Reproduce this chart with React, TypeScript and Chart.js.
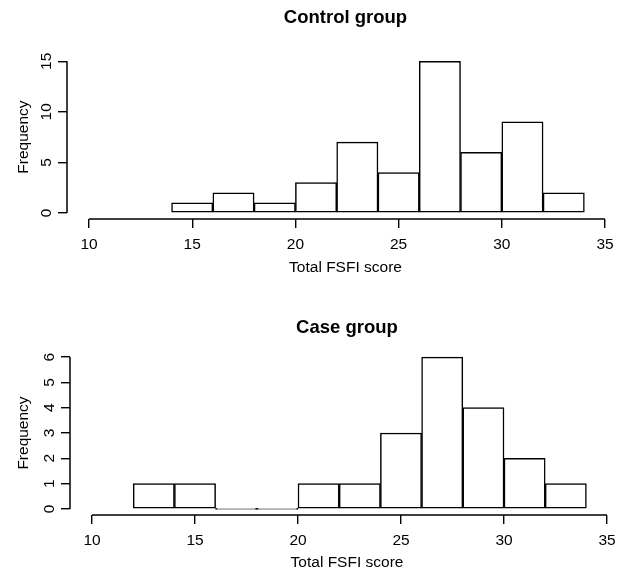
import React, { useEffect, useRef } from 'react';
import { Chart, registerables } from 'chart.js';

Chart.register(...registerables);

// ---- data ----
const binWidth = 2;
const controlBinStarts = [14, 16, 18, 20, 22, 24, 26, 28, 30, 32];
const controlCounts = [1, 2, 1, 3, 7, 4, 15, 6, 9, 2];
const caseBinStarts = [12, 14, 16, 18, 20, 22, 24, 26, 28, 30, 32];
const caseCounts = [1, 1, 0, 0, 1, 1, 3, 6, 4, 2, 1];
const xTicks = [10, 15, 20, 25, 30, 35];
const controlYTicks = [0, 5, 10, 15];
const caseYTicks = [0, 1, 2, 3, 4, 5, 6];
const controlTitle = 'Control group';
const caseTitle = 'Case group';
const xAxisLabel = 'Total FSFI score';
const yAxisLabel = 'Frequency';

const FONT = "'Liberation Sans', Arial, Helvetica, sans-serif";

const rAxisLines = {
  id: 'rAxisLines',
  afterDraw(chart: any) {
    const { ctx, chartArea } = chart;
    const x = chart.scales.x;
    const y = chart.scales.y;
    const xt = x.ticks.map((t: any) => t.value);
    const yt = y.ticks.map((t: any) => t.value);
    ctx.save();
    ctx.strokeStyle = '#000';
    ctx.lineWidth = 1.5;
    ctx.beginPath();
    ctx.moveTo(x.getPixelForValue(xt[0]), chartArea.bottom);
    ctx.lineTo(x.getPixelForValue(xt[xt.length - 1]), chartArea.bottom);
    ctx.moveTo(chartArea.left, y.getPixelForValue(yt[0]));
    ctx.lineTo(chartArea.left, y.getPixelForValue(yt[yt.length - 1]));
    ctx.stroke();
    ctx.restore();
  },
};

interface Params {
  title: string;
  starts: number[];
  counts: number[];
  yTicks: number[];
  xMin: number;
  xMax: number;
  yMin: number;
  yMax: number;
  yWidth: number;
  xHeight: number;
  titlePad: { top: number; bottom: number };
  xTickPad: number;
  xTitlePadBottom: number;
  yTickPad: number;
}

function makeConfig(p: Params): any {
  const data = p.starts.map((s, i) => ({ x: s + binWidth / 2, y: p.counts[i] }));
  const gridOpts = {
    display: true,
    drawOnChartArea: false,
    drawTicks: true,
    tickLength: 9,
    color: '#000',
    lineWidth: 1.4,
    offset: false,
  };
  return {
    type: 'bar',
    data: {
      datasets: [
        {
          data,
          backgroundColor: '#ffffff',
          borderColor: '#000000',
          borderWidth: 1.5,
          borderSkipped: false,
          minBarLength: 1,
          barPercentage: 1,
          categoryPercentage: 1,
          grouped: false,
        },
      ],
    },
    options: {
      responsive: false,
      animation: false,
      events: [],
      layout: { padding: 0 },
      plugins: {
        legend: { display: false },
        tooltip: { enabled: false },
        title: {
          display: true,
          text: p.title,
          fullSize: false,
          color: '#000',
          font: { family: FONT, size: 18.5, weight: 'bold', lineHeight: 1.2 },
          padding: p.titlePad,
        },
      },
      scales: {
        x: {
          type: 'linear',
          offset: false,
          min: p.xMin,
          max: p.xMax,
          afterBuildTicks: (s: any) => {
            s.ticks = xTicks.map((v) => ({ value: v }));
          },
          afterFit: (s: any) => {
            s.height = p.xHeight;
          },
          grid: gridOpts,
          border: { display: false },
          ticks: {
            color: '#000',
            font: { family: FONT, size: 15.5 },
            padding: p.xTickPad,
            maxRotation: 0,
            minRotation: 0,
            autoSkip: false,
          },
          title: {
            display: true,
            text: xAxisLabel,
            color: '#000',
            font: { family: FONT, size: 15.5, lineHeight: 1.2 },
            padding: { top: 0, bottom: p.xTitlePadBottom },
          },
        },
        y: {
          type: 'linear',
          offset: false,
          min: p.yMin,
          max: p.yMax,
          afterBuildTicks: (s: any) => {
            s.ticks = p.yTicks.map((v) => ({ value: v }));
          },
          afterFit: (s: any) => {
            s.width = p.yWidth;
          },
          grid: gridOpts,
          border: { display: false },
          ticks: {
            color: '#000',
            font: { family: FONT, size: 15.5 },
            padding: p.yTickPad,
            minRotation: 90,
            maxRotation: 90,
            crossAlign: 'center',
            autoSkip: false,
          },
          title: {
            display: true,
            text: yAxisLabel,
            color: '#000',
            font: { family: FONT, size: 15.5, lineHeight: 1.2 },
            padding: { top: 14, bottom: 0 },
          },
        },
      },
    },
    plugins: [rAxisLines],
  };
}

function Histogram({ cfg, width, height }: { cfg: any; width: number; height: number }) {
  const ref = useRef<HTMLCanvasElement | null>(null);
  useEffect(() => {
    if (!ref.current) return;
    const chart = new Chart(ref.current, cfg);
    return () => chart.destroy();
  }, [cfg]);
  return (
    <canvas
      ref={ref}
      width={width}
      height={height}
      style={{ display: 'block', width, height }}
    />
  );
}

const controlCfg = makeConfig({
  title: controlTitle,
  starts: controlBinStarts,
  counts: controlCounts,
  yTicks: controlYTicks,
  xMin: 8.934,
  xMax: 35.92,
  yMin: -0.6,
  yMax: 15.6,
  yWidth: 67,
  xHeight: 71,
  titlePad: { top: 7, bottom: 26 },
  xTickPad: 7.5,
  xTitlePadBottom: 12.7,
  yTickPad: 2.5,
});

const caseCfg = makeConfig({
  title: caseTitle,
  starts: caseBinStarts,
  counts: caseCounts,
  yTicks: caseYTicks,
  xMin: 8.932,
  xMax: 35.825,
  yMin: -0.24,
  yMax: 6.24,
  yWidth: 70,
  xHeight: 58,
  titlePad: { top: 26.4, bottom: 12.4 },
  xTickPad: 7,
  xTitlePadBottom: 0.7,
  yTickPad: 6.5,
});

export default function App() {
  return (
    <div
      style={{
        position: 'absolute',
        left: 0,
        top: 0,
        width: 624,
        height: 573,
        background: '#fff',
        overflow: 'hidden',
      }}
    >
      <Histogram cfg={controlCfg} width={624} height={290} />
      <Histogram cfg={caseCfg} width={624} height={283} />
    </div>
  );
}
